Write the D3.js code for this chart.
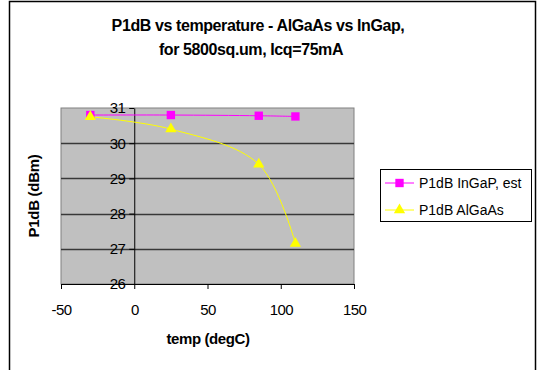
<!DOCTYPE html>
<html>
<head>
<meta charset="utf-8">
<script src="https://cdn.jsdelivr.net/npm/d3@7"></script>
<style>
  body { margin: 0; background: #fff; }
  text { font-family: Arial, "Liberation Sans", sans-serif; }
</style>
</head>
<body>
<div id="chart"></div>
<script>
const temps = [-30, 25, 85, 110];
const ingap = [30.8, 30.8, 30.78, 30.76];
const algaas = [30.75, 30.4, 29.4, 27.15];
const xTicks = [-50, 0, 50, 100, 150];
const yTicks = [26, 27, 28, 29, 30, 31];

const W = 541, H = 370;
const plot = {left: 61, right: 354, top: 108, bottom: 284};

const svg = d3.select("#chart").append("svg")
    .attr("width", W)
    .attr("height", H);

// outer chart border
svg.append("rect")
    .attr("x", 9.5).attr("y", 1.5)
    .attr("width", 526).attr("height", 400)
    .attr("fill", "#fff")
    .attr("stroke", "#000")
    .attr("stroke-width", 1.5);

const x = d3.scaleLinear().domain([-50, 150]).range([plot.left, plot.right]);
const y = d3.scaleLinear().domain([26, 31]).range([plot.bottom, plot.top]);
const fmt = d => String(d); // plain hyphen minus like the original

// plot background
svg.append("rect")
    .attr("x", plot.left).attr("y", plot.top)
    .attr("width", plot.right - plot.left).attr("height", plot.bottom - plot.top)
    .attr("fill", "#c0c0c0")
    .attr("stroke", "#808080");

// gridlines
svg.append("g")
    .selectAll("line")
    .data(yTicks.filter(d => d > 26 && d < 31))
    .enter()
    .append("line")
    .attr("x1", plot.left).attr("x2", plot.right)
    .attr("y1", d => Math.round(y(d)) + 0.5)
    .attr("y2", d => Math.round(y(d)) + 0.5)
    .attr("stroke", "#383838")
    .attr("stroke-width", 1.3);

// x axis at bottom
const xAxis = svg.append("g")
    .attr("transform", `translate(0,${plot.bottom})`)
    .call(d3.axisBottom(x).tickValues(xTicks).tickFormat(fmt).tickSize(5).tickSizeOuter(0));
xAxis.select(".domain").attr("stroke", "#000");
xAxis.selectAll("text")
    .style("font-size", "15px")
    .style("letter-spacing", "-0.6px")
    .attr("fill", "#000")
    .attr("y", 26)
    .attr("dy", "0.35em");

// y axis crossing at x = 0
const yAxis = svg.append("g")
    .attr("transform", `translate(${x(0)},0)`)
    .call(d3.axisLeft(y).tickValues(yTicks).tickFormat(fmt).tickSize(5).tickSizeOuter(0));
yAxis.select(".domain").attr("stroke", "#000");
yAxis.selectAll("text")
    .style("font-size", "15px")
    .style("letter-spacing", "-0.6px")
    .attr("fill", "#000")
    .attr("x", -9);

// series
const line = d3.line()
    .x(d => x(d[0]))
    .y(d => y(d[1]))
    .curve(d3.curveCatmullRom.alpha(0.5));

const sIngap = temps.map((t, i) => [t, ingap[i]]);
const sAlgaas = temps.map((t, i) => [t, algaas[i]]);

svg.append("path")
    .datum(sIngap)
    .attr("d", line)
    .attr("fill", "none")
    .attr("stroke", "#ff00ff")
    .attr("stroke-width", 1);

svg.append("path")
    .datum(sAlgaas)
    .attr("d", line)
    .attr("fill", "none")
    .attr("stroke", "#ffff00")
    .attr("stroke-width", 1);

const sq = d3.symbol().type(d3.symbolSquare).size(70);
const tri = d3.symbol().type(d3.symbolTriangle).size(55);

svg.append("g")
    .selectAll("path")
    .data(sIngap)
    .enter()
    .append("path")
    .attr("d", sq)
    .attr("transform", d => `translate(${x(d[0])},${y(d[1])})`)
    .attr("fill", "#ff00ff");

svg.append("g")
    .selectAll("path")
    .data(sAlgaas)
    .enter()
    .append("path")
    .attr("d", tri)
    .attr("transform", d => `translate(${x(d[0])},${y(d[1])})`)
    .attr("fill", "#ffff00");

// title
svg.append("text")
    .attr("x", 258).attr("y", 31)
    .attr("text-anchor", "middle")
    .style("font-size", "16px")
    .style("font-weight", "bold")
    .style("letter-spacing", "-0.4px")
    .text("P1dB vs temperature - AlGaAs vs InGap,");
svg.append("text")
    .attr("x", 251).attr("y", 55)
    .attr("text-anchor", "middle")
    .style("font-size", "16px")
    .style("font-weight", "bold")
    .style("letter-spacing", "-0.4px")
    .text("for 5800sq.um, Icq=75mA");

// axis titles
svg.append("text")
    .attr("x", 208).attr("y", 344)
    .attr("text-anchor", "middle")
    .style("font-size", "15px")
    .style("font-weight", "bold")
    .style("letter-spacing", "-0.4px")
    .text("temp (degC)");

svg.append("text")
    .attr("transform", `translate(39,${(plot.top + plot.bottom) / 2})rotate(-90)`)
    .attr("text-anchor", "middle")
    .style("font-size", "15px")
    .style("font-weight", "bold")
    .style("letter-spacing", "-0.3px")
    .text("P1dB (dBm)");

// legend
const lg = svg.append("g");
lg.append("rect")
    .attr("x", 380.5).attr("y", 169.5)
    .attr("width", 151).attr("height", 52)
    .attr("fill", "#fff")
    .attr("stroke", "#000");

const legendItems = [
  {name: "P1dB InGaP, est", color: "#ff00ff", sym: sq},
  {name: "P1dB AlGaAs", color: "#ffff00", sym: tri}
];
legendItems.forEach((it, i) => {
  const cy = 183 + i * 27;
  lg.append("line")
    .attr("x1", 385).attr("x2", 414)
    .attr("y1", cy).attr("y2", cy)
    .attr("stroke", it.color);
  lg.append("path")
    .attr("d", it.sym)
    .attr("transform", `translate(399.5,${cy})`)
    .attr("fill", it.color);
  lg.append("text")
    .attr("x", 419).attr("y", cy + 5)
    .style("font-size", "14px")
    .text(it.name);
});
</script>
</body>
</html>
